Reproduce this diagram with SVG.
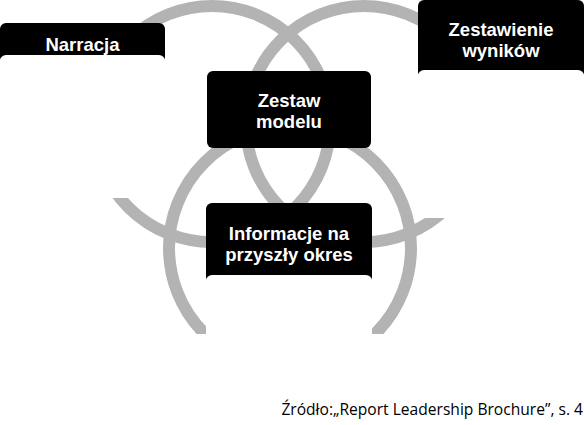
<svg xmlns="http://www.w3.org/2000/svg" width="584" height="425" viewBox="0 0 584 425">
  <style>
    .ring { fill: none; stroke: #b3b3b3; stroke-width: 12; }
    .head { fill: #000; }
    .body { fill: #fff; }
    .label { fill: #fff; font-family: "Liberation Sans", Arial, sans-serif; font-weight: 700; font-size: 18.5px; text-anchor: middle; }
    .source { fill: #000; font-family: "Open Sans", "Noto Sans", sans-serif; font-size: 15.6px; text-anchor: end; }
  </style>
  <defs>
    <clipPath id="cut">
      <rect x="0" y="0" width="584" height="334"/>
    </clipPath>
  </defs>
  <rect x="0" y="0" width="584" height="425" fill="#fff"/>
  <g id="connectors" clip-path="url(#cut)">
    <circle class="ring" cx="212" cy="124" r="118"/>
    <circle class="ring" cx="364" cy="124" r="118"/>
    <circle class="ring" cx="290" cy="248" r="121"/>
  </g>
  <g id="node-narracja">
    <rect class="head" x="0" y="23" width="165" height="40" rx="6"/>
    <rect class="body" x="0" y="55" width="165" height="143" rx="6"/>
    <text class="label" x="82.5" y="51">Narracja</text>
  </g>
  <g id="node-zestawienie">
    <rect class="head" x="418" y="0" width="166" height="78" rx="6"/>
    <rect class="body" x="418" y="70" width="166" height="148" rx="6"/>
    <text class="label" x="501" y="35.5">Zestawienie</text>
    <text class="label" x="501" y="57">wyników</text>
  </g>
  <g id="node-zestaw-modelu">
    <rect class="head" x="207" y="71" width="164" height="77" rx="6"/>
    <text class="label" x="289" y="106.5">Zestaw</text>
    <text class="label" x="289" y="128">modelu</text>
  </g>
  <g id="node-informacje">
    <rect class="head" x="206" y="203" width="166" height="80" rx="6"/>
    <rect class="body" x="206" y="275" width="166" height="70" rx="6"/>
    <text class="label" x="289" y="239.5">Informacje na</text>
    <text class="label" x="289" y="261">przyszły okres</text>
  </g>
  <text class="source" x="583" y="415">Źródło:„Report Leadership Brochure”, s. 4</text>
</svg>
